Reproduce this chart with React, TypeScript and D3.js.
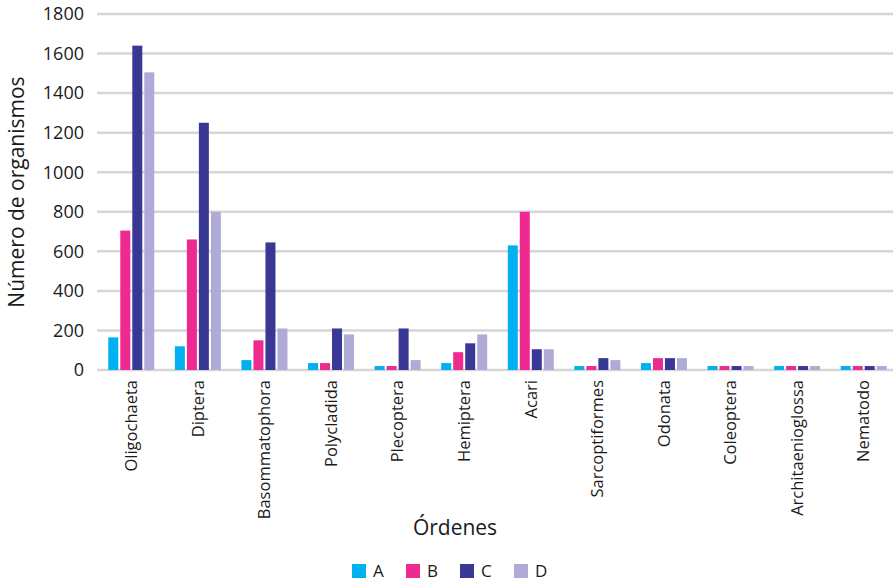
import React from 'react';
import * as d3 from 'd3';

// órdenes y series
const categories = [
  'Oligochaeta', 'Diptera', 'Basommatophora', 'Polycladida', 'Plecoptera', 'Hemiptera',
  'Acari', 'Sarcoptiformes', 'Odonata', 'Coleoptera', 'Architaenioglossa', 'Nematodo',
];
const seriesNames = ['A', 'B', 'C', 'D'];
const valuesA = [165, 120, 50, 35, 20, 35, 630, 20, 35, 20, 20, 20];
const valuesB = [705, 660, 150, 35, 20, 90, 800, 20, 60, 20, 20, 20];
const valuesC = [1640, 1250, 645, 210, 210, 135, 105, 60, 60, 20, 20, 20];
const valuesD = [1505, 800, 210, 180, 50, 180, 105, 50, 60, 20, 20, 20];
const yTicks = [0, 200, 400, 600, 800, 1000, 1200, 1400, 1600, 1800];

const colors = ['#00B0F0', '#EE2A91', '#393894', '#B0ABD6'];
const FONT = "'Open Sans', 'Noto Sans', sans-serif";

export default function App() {
  const width = 893;
  const height = 582;
  const series = [valuesA, valuesB, valuesC, valuesD];

  const x = d3.scaleBand<string>().domain(categories).range([98, 897]).paddingInner(0).paddingOuter(0);
  const y = d3.scaleLinear().domain([0, 1800]).range([370, 14]);

  const barW = 10;
  const step = 12;
  const groupW = step * 3 + barW;

  return (
    <svg width={width} height={height} style={{ position: 'absolute', left: 0, top: 0, fontFamily: FONT }}>
      {/* líneas de cuadrícula */}
      {yTicks.map((t) => (
        <line key={t} x1={97} x2={width} y1={y(t)} y2={y(t)} stroke="#D6D6D6" strokeWidth={2.5} />
      ))}
      {yTicks.map((t) => (
        <text key={`l${t}`} x={84} y={y(t)} dy="0.35em" textAnchor="end" fontSize={18} fill="#1a1a1a">
          {t}
        </text>
      ))}

      {/* barras */}
      {categories.map((c, i) => {
        const cx = (x(c) as number) + x.bandwidth() / 2;
        return series.map((vals, s) => (
          <rect
            key={`${c}-${s}`}
            x={cx - groupW / 2 + s * step}
            y={y(vals[i])}
            width={barW}
            height={y(0) - y(vals[i])}
            fill={colors[s]}
          />
        ));
      })}

      {/* etiquetas de categorías */}
      {categories.map((c) => {
        const cx = (x(c) as number) + x.bandwidth() / 2;
        return (
          <text
            key={`t${c}`}
            transform={`translate(${cx},380) rotate(-90)`}
            textAnchor="end"
            dy="0.35em"
            fontSize={16.5}
            fill="#1a1a1a">
            {c}
          </text>
        );
      })}

      {/* títulos de ejes */}
      <text transform="translate(17,192) rotate(-90)" textAnchor="middle" dy="0.35em" fontSize={21} fill="#1a1a1a">
        Número de organismos
      </text>
      <text x={455} y={535} textAnchor="middle" fontSize={21} fill="#1a1a1a">
        Órdenes
      </text>

      {/* leyenda */}
      {seriesNames.map((n, i) => (
        <g key={n} transform={`translate(${352 + i * 54},564)`}>
          <rect x={0} y={0} width={14} height={14} fill={colors[i]} />
          <text x={21} y={7} dy="0.35em" fontSize={17} fill="#1a1a1a">
            {n}
          </text>
        </g>
      ))}
    </svg>
  );
}
